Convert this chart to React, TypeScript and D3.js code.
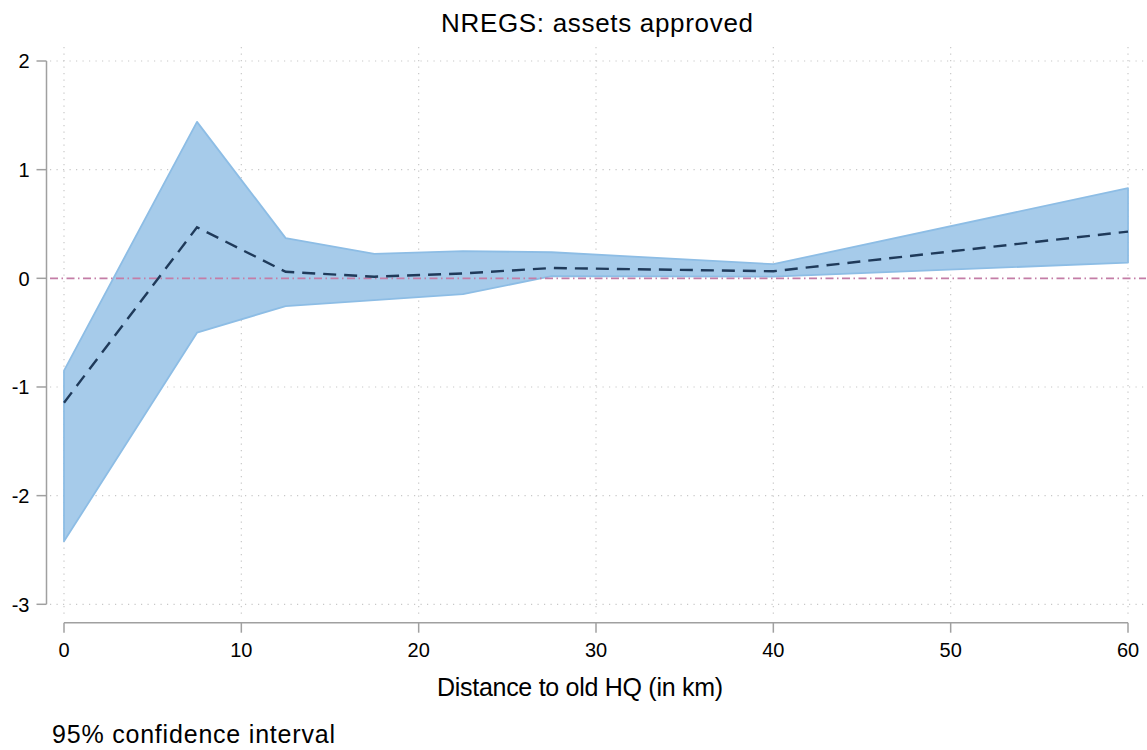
import React from 'react';
import * as d3 from 'd3';

// 距离分箱中点（km）
const distances = [0, 7.5, 12.5, 17.5, 22.5, 27.5, 40, 60];
// 点估计
const estimate = [-1.145, 0.47, 0.06, 0.015, 0.045, 0.095, 0.065, 0.43];
// 95% 置信区间
const ciUpper = [-0.85, 1.44, 0.37, 0.225, 0.25, 0.24, 0.13, 0.83];
const ciLower = [-2.42, -0.5, -0.255, -0.2, -0.145, 0.02, 0.015, 0.145];

const xTicks = [0, 10, 20, 30, 40, 50, 60];
const yTicks = [2, 1, 0, -1, -2, -3];

const W = 1147;
const H = 750;
const FONT = '"Liberation Sans", Arial, Helvetica, sans-serif';

export default function App() {
  const x = d3.scaleLinear().domain([0, 60]).range([64, 1128]);
  const y = d3.scaleLinear().domain([-3, 2]).range([604.3, 61]);

  const rows = distances.map((d, i) => ({ d, m: estimate[i], lo: ciLower[i], hi: ciUpper[i] }));

  const area = d3.area<typeof rows[0]>()
    .x(r => x(r.d))
    .y0(r => y(r.lo))
    .y1(r => y(r.hi));

  const line = d3.line<typeof rows[0]>()
    .x(r => x(r.d))
    .y(r => y(r.m));

  const plotLeft = 50;
  const plotRight = 1146;
  const plotTop = 47;
  const plotBottom = 617;
  const axisY = 622.7;
  const axisX = 46.5;

  return (
    <svg width={W} height={H} style={{ position: 'absolute', left: 0, top: 0, background: '#fff' }}
      fontFamily={FONT}>
      {/* 网格 */}
      {xTicks.map(t => (
        <line key={'gx' + t} x1={x(t)} x2={x(t)} y1={plotTop} y2={plotBottom}
          stroke="#c8c8c8" strokeWidth={1.2} strokeDasharray="1.2,5.3" />
      ))}
      {yTicks.filter(t => t !== 0).map(t => (
        <line key={'gy' + t} x1={plotLeft} x2={plotRight} y1={y(t)} y2={y(t)}
          stroke="#c8c8c8" strokeWidth={1.2} strokeDasharray="1.2,5.3" />
      ))}

      {/* 置信区间 */}
      <path d={area(rows) ?? ''} fill="#a6cbea" stroke="#8dbde5" strokeWidth={1.8} strokeLinejoin="round" />

      {/* 零线 */}
      <line x1={plotLeft} x2={plotRight} y1={y(0)} y2={y(0)}
        stroke="#c47da6" strokeWidth={1.8} strokeDasharray="8,3.5,1.5,3.5" />

      {/* 点估计 */}
      <path d={line(rows) ?? ''} fill="none" stroke="#1f3a5a" strokeWidth={2.4} strokeDasharray="13,8" />

      {/* Y 轴 */}
      <line x1={axisX} x2={axisX} y1={y(2)} y2={y(-3)} stroke="#a0a0a0" strokeWidth={1.5} />
      {yTicks.map(t => (
        <g key={'yt' + t}>
          <line x1={axisX - 10} x2={axisX} y1={y(t)} y2={y(t)} stroke="#a0a0a0" strokeWidth={1.5} />
          <text x={axisX - 17} y={y(t)} dy="0.36em" textAnchor="end" fontSize={20} fill="#000">{t}</text>
        </g>
      ))}

      {/* X 轴 */}
      <line x1={x(0)} x2={x(60)} y1={axisY} y2={axisY} stroke="#a0a0a0" strokeWidth={1.5} />
      {xTicks.map(t => (
        <g key={'xt' + t}>
          <line x1={x(t)} x2={x(t)} y1={axisY} y2={axisY + 10} stroke="#a0a0a0" strokeWidth={1.5} />
          <text x={x(t)} y={657} textAnchor="middle" fontSize={20} fill="#000">{t}</text>
        </g>
      ))}

      <text x={437} y={696} fontSize={25} fill="#000" textLength={286} lengthAdjust="spacing">Distance to old HQ (in km)</text>
      <text x={441} y={31.5} fontSize={26} fill="#000" textLength={312} lengthAdjust="spacing">NREGS: assets approved</text>
      <text x={52} y={743} fontSize={25} fill="#000" textLength={283} lengthAdjust="spacing">95% confidence interval</text>
    </svg>
  );
}
